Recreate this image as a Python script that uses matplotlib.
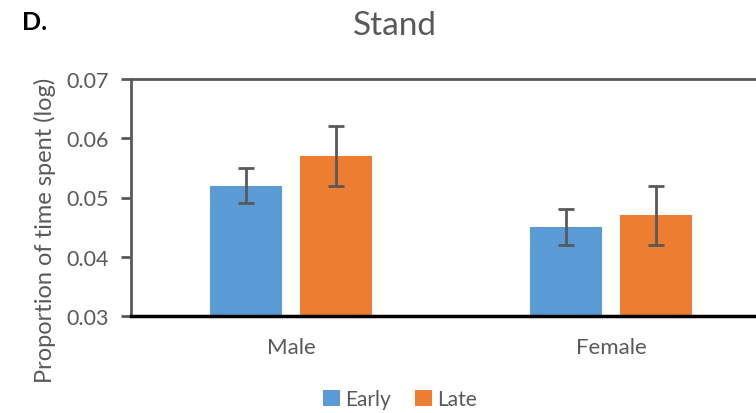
"""Stand: proportion of time spent (log) by sex, early vs late."""

import matplotlib.pyplot as plt
import numpy as np

plt.rcParams["font.family"] = ["Lato", "DejaVu Sans"]

groups = ["Male", "Female"]
series = ["Early", "Late"]
means = {"Early": [0.052, 0.045], "Late": [0.057, 0.047]}
errors = {"Early": [0.003, 0.003], "Late": [0.005, 0.005]}
colors = {"Early": "#5B9BD5", "Late": "#ED7D31"}

TEXT = "#595959"


def main():
    fig = plt.figure(figsize=(7.56, 4.14), dpi=100)
    # right edge runs past the figure, like the clipped source panel
    ax = fig.add_axes([131 / 756, 1 - 317 / 414, 640 / 756, 237 / 414])

    x = np.arange(len(groups)) + 0.5
    width = 0.224
    offsets = {"Early": -0.14, "Late": 0.14}
    for name in series:
        ax.bar(x + offsets[name], means[name], width, color=colors[name], label=name, zorder=2)
        ax.errorbar(x + offsets[name], means[name], yerr=errors[name], fmt="none",
                    ecolor=TEXT, elinewidth=2, capsize=6, capthick=2, zorder=3)

    ax.set_xlim(0, 2)
    ax.set_ylim(0.03, 0.07)
    ax.set_yticks([0.03, 0.04, 0.05, 0.06, 0.07])
    ax.set_yticklabels([f"{v:.2f}" for v in ax.get_yticks()])
    ax.set_xticks(x)
    ax.set_xticklabels(groups)
    ax.tick_params(axis="x", length=0, pad=15, labelsize=16, labelcolor=TEXT)
    ax.tick_params(axis="y", length=7, width=2, color=TEXT, labelsize=15.5, labelcolor=TEXT, pad=9)

    ax.spines["left"].set_color(TEXT)
    ax.spines["left"].set_linewidth(2)
    ax.spines["top"].set_color(TEXT)
    ax.spines["top"].set_linewidth(2)
    ax.spines["bottom"].set_color("black")
    ax.spines["bottom"].set_linewidth(2.5)
    ax.spines["right"].set_visible(False)

    ax.set_ylabel("Proportion of time spent (log)", fontsize=17, color=TEXT)
    ax.yaxis.set_label_coords((56 - 131) / 640, (317 - 230) / 237)
    fig.text(395 / 756, 1 - 26 / 414, "Stand", ha="center", va="center", fontsize=24, color=TEXT)
    fig.text(22 / 756, 1 - 22 / 414, "D.", ha="left", va="center", fontsize=18, fontweight="bold")

    ax.legend(loc="center", bbox_to_anchor=(400 / 756, 1 - 400 / 414), bbox_transform=fig.transFigure,
              ncol=2, frameon=False, fontsize=15, labelcolor=TEXT, handlelength=0.8, handleheight=0.8,
              handletextpad=0.25, columnspacing=1.2)

    fig.savefig("out.png", dpi=100)
    plt.close(fig)


if __name__ == "__main__":
    main()
